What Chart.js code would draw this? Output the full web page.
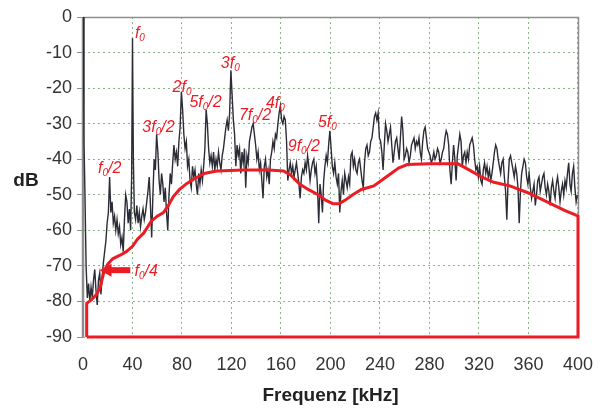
<!DOCTYPE html>
<html>
<head>
<meta charset="utf-8">
<script src="https://cdn.jsdelivr.net/npm/chart.js@4.4.0/dist/chart.umd.min.js"></script>
<style>
html, body { margin: 0; padding: 0; background: #fff; }
#wrap { width: 610px; height: 410px; }
</style>
</head>
<body>
<div id="wrap"><canvas id="c" width="610" height="410"></canvas></div>
<script>
// spectrum, frequency in kHz
var specFreq = [
  0.3, 0.8, 1.5, 2.5, 3.5, 4.5, 5.5, 6.5, 7.5, 8.5,
  9.5, 10.5, 11.5, 12.5, 13.5, 14.5, 15.5, 16.5, 17.5, 18.5,
  19.5, 20.5, 21.5, 22.5, 23.5, 24.5, 25.5, 26.5, 27.5, 28.5,
  29.5, 30.5, 31.5, 32.5, 33.5, 34.5, 35.5, 36.5, 37.5, 38.5,
  39.3, 40, 40.7,
  41.5, 42.5, 43.5, 44.5, 45.5, 46.5, 47.5, 48.5, 49.5, 50.5,
  51.5, 52.5, 53.5, 54.5, 55.5, 56.5, 57.5, 58.5, 59.5, 60.5,
  61.5, 62.5, 63.5, 64.5, 65.5, 66.5, 67.5, 68.5, 69.5, 70.5,
  71.5, 72.5, 73.5, 74.5, 75.5, 76.5, 77.5, 78.5, 79.5, 80.5,
  81.5, 82.5, 83.5, 84.5, 85.5, 86.5, 87.5, 88.5, 89.5, 90.5,
  91.5, 92.5, 93.5, 94.5, 95.5, 96.5, 97.5, 98.5, 99.5, 100.5,
  101.5, 102.5, 103.5, 104.5, 105.5, 106.5, 107.5, 108.5, 109.5, 110.5,
  111.5, 112.5, 113.5, 114.5, 115.5, 116.5, 117.5, 118.5, 119.5, 120.5,
  121.5, 122.5, 123.5, 124.5, 125.5, 126.5, 127.5, 128.5, 129.5, 130.5,
  131.5, 132.5, 133.5, 134.5, 135.5, 136.5, 137.5, 138.5, 139.5, 140.5,
  141.5, 142.5, 143.5, 144.5, 145.5, 146.5, 147.5, 148.5, 149.5, 150.5,
  151.5, 152.5, 153.5, 154.5, 155.5, 156.5, 157.5, 158.5, 159.5, 160.5,
  161.5, 162.5, 163.5, 164.5, 165.5, 166.5, 167.5, 168.5, 169.5, 170.5,
  171.5, 172.5, 173.5, 174.5, 175.5, 176.5, 177.5, 178.5, 179.5, 180.5,
  181.5, 182.5, 183.5, 184.5, 185.5, 186.5, 187.5, 188.5, 189.5, 190.5,
  191.5, 192.5, 193.5, 194.5, 195.5, 196.5, 197.5, 198.5, 199.5, 200.5,
  201.5, 202.5, 203.5, 204.5, 205.5, 206.5, 207.5, 208.5, 209.5, 210.5,
  211.5, 212.5, 213.5, 214.5, 215.5, 216.5, 217.5, 218.5, 219.5, 220.5,
  221.5, 222.5, 223.5, 224.5, 225.5, 226.5, 227.5, 228.5, 229.5, 230.5,
  231.5, 232.5, 233.5, 234.5, 235.5, 236.5, 237.5, 238.5, 239.5, 240.5,
  241.5, 242.5, 243.5, 244.5, 245.5, 246.5, 247.5, 248.5, 249.5, 250.5,
  251.5, 252.5, 253.5, 254.5, 255.5, 256.5, 257.5, 258.5, 259.5, 260.5,
  261.5, 262.5, 263.5, 264.5, 265.5, 266.5, 267.5, 268.5, 269.5, 270.5,
  271.5, 272.5, 273.5, 274.5, 275.5, 276.5, 277.5, 278.5, 279.5, 280.5,
  281.5, 282.5, 283.5, 284.5, 285.5, 286.5, 287.5, 288.5, 289.5, 290.5,
  291.5, 292.5, 293.5, 294.5, 295.5, 296.5, 297.5, 298.5, 299.5, 300.5,
  301.5, 302.5, 303.5, 304.5, 305.5, 306.5, 307.5, 308.5, 309.5, 310.5,
  311.5, 312.5, 313.5, 314.5, 315.5, 316.5, 317.5, 318.5, 319.5, 320.5,
  321.5, 322.5, 323.5, 324.5, 325.5, 326.5, 327.5, 328.5, 329.5, 330.5,
  331.5, 332.5, 333.5, 334.5, 335.5, 336.5, 337.5, 338.5, 339.5, 340.5,
  341.5, 342.5, 343.5, 344.5, 345.5, 346.5, 347.5, 348.5, 349.5, 350.5,
  351.5, 352.5, 353.5, 354.5, 355.5, 356.5, 357.5, 358.5, 359.5, 360.5,
  361.5, 362.5, 363.5, 364.5, 365.5, 366.5, 367.5, 368.5, 369.5, 370.5,
  371.5, 372.5, 373.5, 374.5, 375.5, 376.5, 377.5, 378.5, 379.5, 380.5,
  381.5, 382.5, 383.5, 384.5, 385.5, 386.5, 387.5, 388.5, 389.5, 390.5,
  391.5, 392.5, 393.5, 394.5, 395.5, 396.5, 397.5, 398.5, 399.5
];
// spectrum level in dB (same order as specFreq)
var specLevel = [
  0, -35, -48, -70, -79, -75, -80, -76, -79, -74,
  -71, -77, -81, -74, -72, -78, -73, -69, -66, -63,
  -58, -55, -45, -55, -52, -58, -56, -60, -57, -61,
  -59, -64, -62, -66, -57, -50, -52, -58, -54, -60,
  -45, -6, -40,
  -55, -57, -53, -58, -55, -59, -56, -54, -57, -55,
  -52, -49, -45, -53, -62, -50, -40, -43, -33, -38,
  -46, -50, -44, -47, -52, -48, -55, -60, -50, -44,
  -47, -41, -36, -40, -38, -42, -35, -31, -21, -26,
  -33, -37, -35, -42, -40, -46, -48, -42, -45, -43,
  -47, -50, -44, -47, -43, -46, -42, -37, -26, -30,
  -37, -41, -39, -42, -38, -43, -40, -42, -38, -41,
  -43, -39, -37, -34, -31, -29, -32, -27, -15, -22,
  -29, -33, -42, -36, -39, -37, -44, -38, -41, -37,
  -48, -39, -41, -35, -33, -31, -30, -33, -36, -40,
  -38, -43, -41, -46, -51, -42, -40, -45, -43, -47,
  -40, -38, -35, -37, -33, -34, -30, -27, -25, -29,
  -30, -28, -29, -35, -46, -43, -41, -44, -42, -45,
  -43, -41, -44, -47, -51, -45, -43, -44, -41, -43,
  -39, -42, -46, -43, -41, -40, -44, -42, -48, -58,
  -47, -50, -55, -46, -42, -39, -41, -36, -32, -37,
  -42, -44, -41, -45, -47, -44, -55, -49, -46, -50,
  -44, -46, -48, -45, -47, -39, -38, -42, -40, -43,
  -44, -41, -40, -43, -46, -48, -41, -37, -36, -39,
  -38, -35, -34, -31, -28, -27, -29, -27, -34, -35,
  -38, -43, -36, -30, -32, -35, -33, -31, -36, -41,
  -38, -35, -34, -37, -40, -34, -28, -32, -40, -39,
  -37, -38, -41, -39, -36, -35, -34, -37, -35, -36,
  -34, -38, -40, -35, -32, -31, -34, -37, -38, -39,
  -41, -40, -38, -40, -39, -37, -38, -41, -40, -38,
  -37, -34, -32, -33, -36, -43, -47, -41, -36, -40,
  -46, -39, -36, -33, -35, -42, -39, -38, -41, -38,
  -40, -36, -35, -34, -36, -40, -43, -42, -45, -42,
  -46, -47, -43, -41, -44, -42, -45, -43, -46, -44,
  -41, -38, -36, -37, -40, -42, -44, -41, -40, -45,
  -49, -57, -46, -40, -39, -41, -43, -45, -42, -44,
  -48, -58, -49, -44, -42, -40, -41, -45, -47, -44,
  -48, -51, -49, -47, -53, -50, -46, -45, -49, -47,
  -45, -44, -48, -50, -47, -49, -53, -48, -46, -49,
  -51, -47, -45, -48, -52, -49, -47, -50, -46, -48,
  -44, -41, -47, -49, -44, -42, -48, -52, -50
];

// red limit curve (closed outline)
var limitFreq = [3, 3, 7, 11, 14, 17, 20, 24, 30, 35, 40, 44, 49, 55, 60, 65, 69, 73, 78, 84, 90, 98, 108, 130, 150, 162, 168, 175, 182, 190, 196, 202, 207, 212, 218, 225, 235, 245, 255, 262, 280, 303, 312, 322, 332, 345, 360, 375, 390, 397, 400, 400, 3];
var limitLevel = [-90, -80.5, -79.5, -78, -76, -71.5, -69.5, -68, -67, -66, -64.5, -62.5, -60.8, -57.5, -56, -55, -53, -50.5, -48.5, -46.8, -45.5, -44, -43.3, -43, -43, -43.3, -44.5, -47, -48.5, -50, -51.5, -52.5, -52.5, -51.5, -50, -48.5, -47.5, -45, -42.5, -41.5, -41.3, -41.3, -43, -45, -46.5, -47.5, -49.5, -52, -54.5, -55.5, -56, -90, -90];

// harmonic labels
var markText = ['f0', '2f0', '3f0', '3f0/2', '5f0/2', '7f0/2', '4f0', '9f0/2', '5f0', 'f0/2', 'f0/4'];
var markFreq = [46, 80, 119, 61, 99, 139, 155.5, 178.5, 197.5, 21.5, 51];
var markLevel = [-4.2, -19.4, -12.7, -30.7, -23.6, -27.3, -23.9, -36, -29.3, -42.2, -71.2];

// arrow pointing to f0/4
var arrowFrom = [38.2, -71.2];
var arrowTo = [13.4, -71.2];

var xTicks = [0, 40, 80, 120, 160, 200, 240, 280, 320, 360, 400];
var yTicks = [0, -10, -20, -30, -40, -50, -60, -70, -80, -90];

var RED = '#ec1c24';
var FONT = 'Arial, "Liberation Sans", sans-serif';

function toPoints(xs, ys) {
  var pts = [];
  for (var i = 0; i < xs.length; i++) pts.push({ x: xs[i], y: ys[i] });
  return pts;
}

function drawMark(ctx, txt, cx, cy) {
  // a '0' right after 'f' is a subscript
  var parts = [];
  var w = 0;
  for (var i = 0; i < txt.length; i++) {
    var sub = txt[i] === '0' && txt[i - 1] === 'f';
    ctx.font = sub ? 'italic 10px ' + FONT : 'italic 16px ' + FONT;
    var pw = ctx.measureText(txt[i]).width;
    parts.push({ t: txt[i], sub: sub, w: pw });
    w += pw;
  }
  var x = cx - w / 2;
  parts.forEach(function (p) {
    ctx.font = p.sub ? 'italic 10px ' + FONT : 'italic 16px ' + FONT;
    ctx.fillText(p.t, x, cy + 6 + (p.sub ? 3 : 0));
    x += p.w;
  });
}

var frame = {
  id: 'frame',
  beforeDatasetsDraw: function (chart) {
    var a = chart.chartArea, ctx = chart.ctx;
    ctx.save();
    ctx.strokeStyle = '#8e8e8e';
    ctx.lineWidth = 1.5;
    ctx.beginPath();
    ctx.moveTo(a.left, a.top + 0.5);
    ctx.lineTo(a.right + 0.5, a.top + 0.5);
    ctx.lineTo(a.right + 0.5, a.bottom);
    ctx.stroke();
    ctx.lineWidth = 2.5;
    ctx.beginPath();
    ctx.moveTo(a.left, a.top);
    ctx.lineTo(a.left, a.bottom);
    ctx.stroke();
    ctx.restore();
  },
  afterDatasetsDraw: function (chart) {
    var ctx = chart.ctx, sx = chart.scales.x, sy = chart.scales.y;
    ctx.save();
    ctx.fillStyle = RED;
    ctx.textAlign = 'left';
    ctx.textBaseline = 'alphabetic';
    for (var i = 0; i < markText.length; i++) {
      drawMark(ctx, markText[i], sx.getPixelForValue(markFreq[i]), sy.getPixelForValue(markLevel[i]));
    }
    // arrow
    var x0 = sx.getPixelForValue(arrowFrom[0]);
    var x1 = sx.getPixelForValue(arrowTo[0]);
    var yy = sy.getPixelForValue(arrowTo[1]);
    ctx.fillRect(x1 + 9, yy - 3, x0 - x1 - 9, 6);
    ctx.beginPath();
    ctx.moveTo(x1, yy);
    ctx.lineTo(x1 + 12, yy - 6.5);
    ctx.lineTo(x1 + 12, yy + 6.5);
    ctx.closePath();
    ctx.fill();
    // y axis name
    ctx.fillStyle = '#222';
    ctx.font = 'bold 19px ' + FONT;
    ctx.textAlign = 'center';
    ctx.textBaseline = 'middle';
    ctx.fillText('dB', 26, 181);
    ctx.restore();
  }
};

var ctx = document.getElementById('c').getContext('2d');
var chart = new Chart(ctx, {
  type: 'line',
  data: {
    datasets: [
      {
        data: toPoints(limitFreq, limitLevel),
        borderColor: RED,
        borderWidth: 3,
        pointRadius: 0,
        tension: 0,
        fill: false,
        clip: 6,
        order: 0
      },
      {
        data: toPoints(specFreq, specLevel),
        borderColor: '#2c2c36',
        borderWidth: 1.4,
        pointRadius: 0,
        tension: 0,
        fill: false,
        order: 1
      }
    ]
  },
  options: {
    responsive: false,
    devicePixelRatio: 1,
    animation: false,
    layout: { padding: { left: 0, right: 25, top: 17, bottom: 0 } },
    plugins: { legend: { display: false }, tooltip: { enabled: false } },
    scales: {
      x: {
        type: 'linear',
        min: 0,
        max: 400,
        afterBuildTicks: function (s) { s.ticks = xTicks.map(function (v) { return { value: v }; }); },
        afterFit: function (s) { s.height = 73; },
        ticks: { color: '#333', font: { family: FONT, size: 18 }, padding: 17, maxRotation: 0 },
        grid: { color: '#8db38d', lineWidth: 1, drawTicks: false },
        border: { display: false, dash: [2, 3] },
        title: { display: true, text: 'Frequenz [kHz]', color: '#222', font: { family: FONT, size: 19, weight: 'bold' }, padding: { top: 0, bottom: 3 } }
      },
      y: {
        min: -90,
        max: 0,
        afterBuildTicks: function (s) { s.ticks = yTicks.map(function (v) { return { value: v }; }); },
        afterFit: function (s) { s.width = 83; },
        ticks: { color: '#333', font: { family: FONT, size: 18 }, padding: 5 },
        grid: { color: '#8db38d', lineWidth: 1, tickLength: 6, tickColor: '#8e8e8e', tickBorderDash: [] },
        border: { display: false, dash: [2, 3] }
      }
    }
  },
  plugins: [frame]
});
</script>
</body>
</html>
